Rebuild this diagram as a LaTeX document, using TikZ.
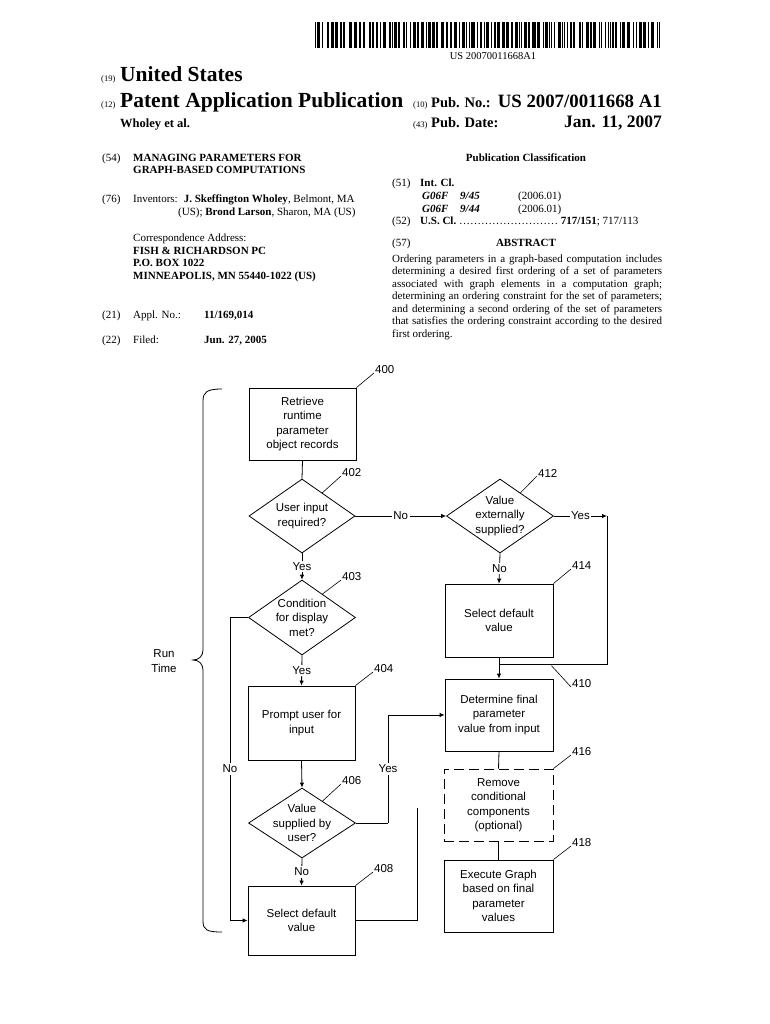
\documentclass[tikz,border=0pt]{standalone}
\usepackage{fontspec}
\setmainfont{Liberation Serif}
\newfontfamily\arialf{Liberation Sans}
\usetikzlibrary{shapes.geometric,arrows.meta,calc}
\tikzset{
  hd/.style={anchor=base west, inner sep=0pt, font=\fontsize{11}{12}\selectfont},
  hsmall/.style={anchor=base west, inner sep=0pt, font=\fontsize{8.5}{10}\selectfont},
  fbox/.style={draw, line width=0.8pt, font=\arialf\fontsize{11.5}{14.5}\selectfont, align=center, inner sep=1pt},
  dia/.style={diamond, draw, line width=0.8pt, inner sep=0pt},
  ftxt/.style={font=\arialf\fontsize{11.5}{14.5}\selectfont, align=center, inner sep=0pt},
  num/.style={font=\arialf\fontsize{11.5}{13}\selectfont, inner sep=0pt, anchor=west},
  lbl/.style={font=\arialf\fontsize{11.5}{13}\selectfont, fill=white, inner sep=1.5pt},
  conn/.style={line width=0.8pt},
  arr/.style={line width=0.8pt, -{Latex[length=5pt,width=4.5pt]}},
  lead/.style={line width=0.6pt}
}
\begin{document}
\begin{tikzpicture}[x=1pt,y=-1pt]
\fill[white] (0,0) rectangle (770,1024);
\useasboundingbox (0,0) rectangle (770,1024);

% ---------- barcode ----------
\pgfmathsetseed{23}
\gdef\bx{315}
\foreach \i in {1,...,110}{
  \pgfmathsetmacro\bw{1+int(rnd*3)}
  \pgfmathsetmacro\gw{1+int(rnd*2.2)}
  \ifdim\bx pt<658pt
    \fill (\bx,22) rectangle ++(\bw*1.05,26);
  \fi
  \pgfmathsetmacro\nx{\bx+(\bw+\gw)*1.05}
  \xdef\bx{\nx}
}
\fill (658.5,22) rectangle ++(1.8,26);
\node[inner sep=0pt, font=\fontsize{10.5}{11}\selectfont] (bcnum) at (493,56) {US 20070011668A1};

% ---------- header ----------
\node[hsmall] (n19) at (101,82) {(19)};
\node[hd, font=\bfseries\fontsize{21.5}{22}\selectfont] (us) at (120,82) {United States};
\node[hsmall] (n12) at (101,108) {(12)};
\node[hd, font=\bfseries\fontsize{21.5}{22}\selectfont] (pap) at (120,108) {Patent Application Publication};
\node[hd, font=\bfseries\fontsize{12.5}{13}\selectfont] (auth) at (120,128) {Wholey et al.};
\node[hsmall] (n10) at (413,108) {(10)};
\node[hd, font=\bfseries\fontsize{14.5}{15}\selectfont] (pubno) at (431,108) {Pub. No.:};
\node[hd, anchor=base east, font=\bfseries\fontsize{18.8}{19}\selectfont] (pubnov) at (662,108) {US 2007/0011668 A1};
\node[hsmall] (n43) at (413,128) {(43)};
\node[hd, font=\bfseries\fontsize{14.5}{15}\selectfont] (pubdt) at (431,128) {Pub. Date:};
\node[hd, anchor=base east, font=\bfseries\fontsize{17.5}{18}\selectfont] (pubdtv) at (662,128) {Jan. 11, 2007};

% ---------- left column ----------
\node[hd] (c54) at (102,162) {(54)};
\node[hd] (t1) at (133,162) {\textbf{MANAGING PARAMETERS FOR}};
\node[hd] (t2) at (133,174) {\textbf{GRAPH-BASED COMPUTATIONS}};
\node[hd] (c76) at (102,203) {(76)};
\node[hd] (inv1) at (133,203) {Inventors:\hspace{6pt}\textbf{J. Skeffington Wholey}, Belmont, MA};
\node[hd] (inv2) at (178,216) {(US); \textbf{Brond Larson}, Sharon, MA (US)};
\node[hd] (ca1) at (133,241) {Correspondence Address:};
\node[hd] (ca2) at (133,254) {\textbf{FISH \& RICHARDSON PC}};
\node[hd] (ca3) at (133,266) {\textbf{P.O. BOX 1022}};
\node[hd] (ca4) at (133,279) {\textbf{MINNEAPOLIS, MN 55440-1022 (US)}};
\node[hd] (c21) at (102,318) {(21)};
\node[hd] (apl) at (133,318) {Appl. No.:};
\node[hd] (aplv) at (204,318) {\textbf{11/169,014}};
\node[hd] (c22) at (102,343) {(22)};
\node[hd] (fil) at (133,343) {Filed:};
\node[hd] (filv) at (204,343) {\textbf{Jun. 27, 2005}};

% ---------- right column ----------
\node[hd, anchor=base] (pc) at (526,162) {\textbf{Publication Classification}};
\node[hd] (c51) at (392,187) {(51)};
\node[hd] (ic) at (420,187) {\textbf{Int. Cl.}};
\node[hd] (g1) at (422,200) {\textbf{\textit{G06F}}};
\node[hd] (g1b) at (460,200) {\textbf{\textit{9/45}}};
\node[hd] (g1c) at (518,200) {(2006.01)};
\node[hd] (g2) at (422,213) {\textbf{\textit{G06F}}};
\node[hd] (g2b) at (460,213) {\textbf{\textit{9/44}}};
\node[hd] (g2c) at (518,213) {(2006.01)};
\node[hd] (c52) at (392,225) {(52)};
\node[hd] (usc) at (420,225) {\textbf{U.S. Cl.}\ \ldots\ldots\ldots\ldots\ldots\ldots\ldots\ldots\ldots\ \textbf{717/151}; 717/113};
\node[hd] (c57) at (392,247) {(57)};
\node[hd, anchor=base] (abh) at (526,247) {\textbf{ABSTRACT}};
\node[anchor=north west, inner sep=0pt, text width=270pt, align=justify, font=\fontsize{11}{12.5}\selectfont] (abs) at (392,254.5)
 {Ordering parameters in a graph-based computation includes\linebreak
  determining a desired first ordering of a set of parameters\linebreak
  associated with graph elements in a computation graph;\linebreak
  determining an ordering constraint for the set of parameters;\linebreak
  and determining a second ordering of the set of parameters\linebreak
  that satisfies the ordering constraint according to the desired\linebreak
  first ordering.};

% ---------- flowchart nodes ----------
\node[fbox, minimum width=107pt, minimum height=72pt] (b400) at (302.5,424) {Retrieve\\runtime\\parameter\\object records};
\node[dia, minimum width=106pt, minimum height=74pt] (d402) at (302,516) {};
\node[ftxt] (t402) at (d402.center) {User input\\required?};
\node[dia, minimum width=107pt, minimum height=74pt] (d412) at (500,516) {};
\node[ftxt] (t412) at (d412.center) {Value\\externally\\supplied?};
\node[fbox, minimum width=108pt, minimum height=73pt] (b414) at (499,620.5) {Select default\\value};
\node[dia, minimum width=107pt, minimum height=75pt] (d403) at (302,617.5) {};
\node[ftxt] (t403) at (d403.center) {Condition\\for display\\met?};
\node[fbox, minimum width=107pt, minimum height=74pt] (b404) at (301.5,723) {Prompt user for\\input};
\node[dia, minimum width=107pt, minimum height=70pt] (d406) at (302,823) {};
\node[ftxt] (t406) at (d406.center) {Value\\supplied by\\user?};
\node[fbox, minimum width=107pt, minimum height=69pt] (b408) at (301.5,920.5) {Select default\\value};
\node[fbox, minimum width=108pt, minimum height=72pt] (b410) at (499,715) {Determine final\\parameter\\value from input};
\node[fbox, dash pattern=on 10pt off 5pt, minimum width=109pt, minimum height=72pt] (b416) at (498.5,805) {Remove\\conditional\\components\\(optional)};
\node[fbox, minimum width=109pt, minimum height=72pt] (b418) at (498.5,896) {Execute Graph\\based on final\\parameter\\values};

% ---------- number labels ----------
\node[num] (l400) at (375,370) {400};
\node[num] (l402) at (342,473) {402};
\node[num] (l412) at (538,473) {412};
\node[num] (l414) at (572,566) {414};
\node[num] (l403) at (342,577) {403};
\node[num] (l404) at (374,669) {404};
\node[num] (l406) at (342,781) {406};
\node[num] (l408) at (374,869) {408};
\node[num] (l410) at (572,684) {410};
\node[num] (l416) at (572,752) {416};
\node[num] (l418) at (572,843) {418};

\draw[lead] (b400.north east) -- ($(l400.west)+(-1,3)$);
\draw[lead] ($(d402.north)!0.38!(d402.east)$) -- ($(l402.west)+(-1,3)$);
\draw[lead] ($(d412.north)!0.38!(d412.east)$) -- ($(l412.west)+(-1,3)$);
\draw[lead] (b414.north east) -- ($(l414.west)+(-1,3)$);
\draw[lead] ($(d403.north)!0.38!(d403.east)$) -- ($(l403.west)+(-1,3)$);
\draw[lead] (b404.north east) -- ($(l404.west)+(-1,3)$);
\draw[lead] ($(d406.north)!0.38!(d406.east)$) -- ($(l406.west)+(-1,3)$);
\draw[lead] (b408.north east) -- ($(l408.west)+(-1,3)$);
\draw[lead] ($(b410.north east)+(-2,-13)$) -- ($(l410.west)+(-1,3)$);
\draw[lead] (b416.north east) -- ($(l416.west)+(-1,3)$);
\draw[lead] (b418.north east) -- ($(l418.west)+(-1,3)$);

% ---------- connectors ----------
\coordinate (yesend) at (607,516);
\coordinate (merge) at (499,664);
\coordinate (nobend) at (230,617.5);
\coordinate (yesbend) at (388,823);
\coordinate (rbend) at (417,920.5);
\coordinate (rend) at (417,808);

\draw[conn] (b400.south) -- (d402.north);
\draw[arr] (d402.east) -- node[lbl] (lno1) {No} (d412.west);
\draw[arr] (d412.east) -- node[lbl] (lyes1) {Yes} (yesend);
\draw[conn] (yesend) |- (merge);
\draw[arr] (d412.south) -- node[lbl] (lno2) {No} (b414.north);
\draw[arr] (b414.south) -- (b410.north);
\draw[arr] (d402.south) -- node[lbl] (lyes2) {Yes} (d403.north);
\draw[arr] (d403.south) -- node[lbl] (lyes3) {Yes} (b404.north);
\draw[conn] (d403.west) -- (nobend);
\draw[arr] (nobend) -- node[lbl, pos=0.5] (lno3) {No} (nobend |- b408.west) -- (b408.west);
\draw[arr] (b404.south) -- (d406.north);
\draw[conn] (d406.east) -- (yesbend);
\draw[arr] (yesbend) -- node[lbl] (lyes4) {Yes} (yesbend |- b410.west) -- (b410.west);
\draw[arr] (d406.south) -- node[lbl] (lno4) {No} (b408.north);
\draw[conn] (b408.east) -- (rbend) -- (rend);
\draw[conn] (b410.south) -- (b416.north);
\draw[conn] (b416.south) -- (b418.north);

% ---------- run time brace ----------
\draw[line width=0.8pt] (222,389) .. controls (207,389) and (203,392) .. (203,401) -- (203,650)
  .. controls (203,656) and (199,660) .. (193,660) .. controls (199,660) and (203,664) .. (203,670)
  -- (203,921) .. controls (203,930) and (207,932) .. (222,932);
\node[ftxt] (rt) at (164,661) {Run\\Time};
\end{tikzpicture}
\end{document}
